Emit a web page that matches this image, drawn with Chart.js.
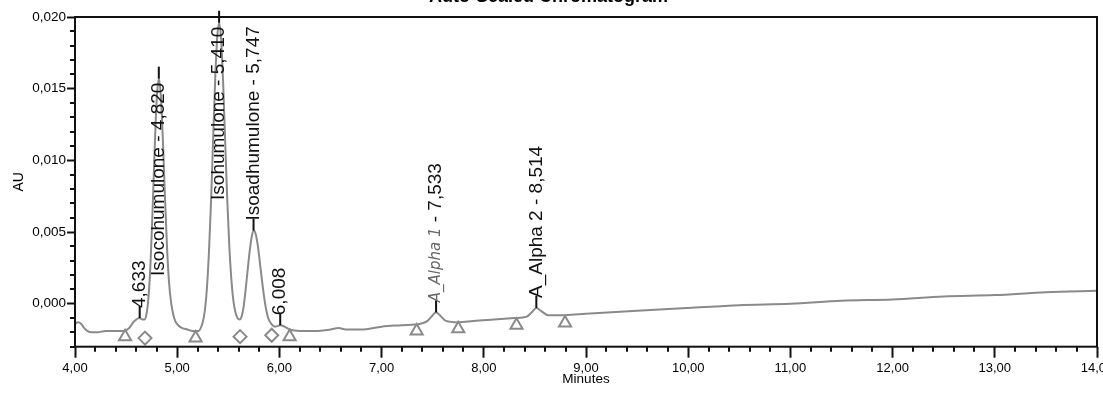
<!DOCTYPE html>
<html>
<head>
<meta charset="utf-8">
<title>Auto-Scaled Chromatogram</title>
<script src="https://cdn.jsdelivr.net/npm/chart.js@4.4.1/dist/chart.umd.min.js"></script>
<style>
  html, body { margin: 0; padding: 0; background: #fff; overflow: hidden; }
  #wrap { position: relative; width: 1103px; height: 396px; overflow: hidden; }
  #chrom { position: absolute; left: 0; top: -14px; }
</style>
</head>
<body>
<div id="wrap">
  <canvas id="chrom" width="1120" height="410"></canvas>
</div>
<script>
// chromatogram trace (minutes / AU)
const traceX = [4.00, 4.03, 4.06, 4.09, 4.12, 4.16, 4.22, 4.30, 4.40, 4.48, 4.53, 4.57, 4.60, 4.63, 4.66, 4.68,
  4.70, 4.72, 4.74, 4.76, 4.78, 4.80, 4.82, 4.84, 4.86, 4.88, 4.90, 4.92, 4.94, 4.96, 4.98, 5.01, 5.05, 5.10, 5.15,
  5.21, 5.23, 5.25, 5.27, 5.29, 5.31, 5.33, 5.35, 5.37, 5.39, 5.41, 5.43, 5.45, 5.47, 5.49, 5.51, 5.53, 5.55, 5.57,
  5.59, 5.61, 5.63, 5.65, 5.67, 5.69, 5.71, 5.73, 5.75, 5.77, 5.79, 5.81, 5.83, 5.85, 5.87, 5.89, 5.92, 5.96, 6.01,
  6.05, 6.10, 6.20, 6.35, 6.50, 6.58, 6.65, 6.80, 7.00, 7.20, 7.38, 7.45, 7.50, 7.533, 7.57, 7.63, 7.75, 7.90, 8.10,
  8.30, 8.42, 8.47, 8.514, 8.56, 8.63, 8.80, 9.00, 9.50, 10.00, 10.50, 11.00, 11.50, 12.00, 12.50, 13.00, 13.50, 14.00];
const traceY = [-0.0014, -0.0013, -0.0014, -0.0017, -0.0019, -0.0020, -0.0020, -0.0019, -0.0019, -0.0019, -0.0017,
  -0.0013, -0.0011, -0.0010, -0.0011, -0.0011,
  -0.0007, 0.0005, 0.0030, 0.0067, 0.0109, 0.0143, 0.0157, 0.0145, 0.0114, 0.0075, 0.0040, 0.0015, 0.0001, -0.0007,
  -0.0012, -0.0015, -0.0017, -0.0018, -0.0019,
  -0.0019, -0.0017, -0.0013, -0.0005, 0.0010, 0.0035, 0.0069, 0.0111, 0.0153, 0.0184, 0.0196, 0.0184, 0.0153, 0.0112,
  0.0072, 0.0040, 0.0017, 0.0002, -0.0006,
  -0.0010, -0.0011, -0.0009, -0.0002, 0.0010, 0.0024, 0.0037, 0.0047, 0.0051, 0.0048, 0.0040, 0.0028, 0.0016, 0.0005,
  -0.0004, -0.0010, -0.0014, -0.0016, -0.0015,
  -0.0016, -0.0018, -0.0019, -0.0019, -0.0018, -0.0017, -0.0018, -0.0018, -0.0016, -0.0015, -0.0014, -0.0012, -0.0008,
  -0.0006, -0.0008, -0.0012, -0.0013, -0.0012, -0.0011,
  -0.0010, -0.0009, -0.0006, -0.0003, -0.0005, -0.0008, -0.0008, -0.0007, -0.0005, -0.0003, -0.0001, 0.0000, 0.0002,
  0.0003, 0.0005, 0.0006, 0.0008, 0.0009];

// integration marks
const baseStartX = [4.49, 5.18, 6.10, 7.343, 7.75, 8.32, 8.795];
const baseStartY = [-0.0023, -0.0024, -0.0023, -0.0019, -0.00175, -0.0015, -0.00135];
const dropLineX = [4.685, 5.615, 5.925];
const dropLineY = [-0.0024, -0.0023, -0.0022];

// named peaks
const peakTimes = [4.633, 4.820, 5.410, 5.747, 6.008, 7.533, 8.514];
const peakApex = [-0.0010, 0.0157, 0.0196, 0.0051, -0.0015, -0.0006, -0.0003];
const peakNames = ['', 'Isocohumulone', 'Isohumulone', 'Isoadhumulone', '', 'A_Alpha 1', 'A_Alpha 2'];
const handWritten = ['A_Alpha 1'];

// axes
const xTickValues = [4, 5, 6, 7, 8, 9, 10, 11, 12, 13, 14];
const yTickValues = [0, 0.005, 0.010, 0.015, 0.020];

const FONT = "'Liberation Sans', Arial, sans-serif";
const LABEL_FONT = '19px ' + FONT;
const HAND_FONT = "italic 15px 'DejaVu Sans', sans-serif";
const comma = (v, d) => v.toFixed(d).replace('.', ',');

// box round the plot plus the small in-between ticks
const frame = {
  id: 'frame',
  afterDatasetsDraw(chart) {
    const {ctx, chartArea: a, scales: {x, y}} = chart;
    ctx.save();
    ctx.strokeStyle = '#111';
    ctx.lineWidth = 2;
    ctx.strokeRect(a.left, a.top, a.right - a.left, a.bottom - a.top);
    ctx.beginPath();
    for (let v = 4.2; v < 14; v += 0.2) {
      if (Math.abs(v - Math.round(v)) < 0.01) continue;
      const px = Math.round(x.getPixelForValue(v));
      ctx.moveTo(px, a.bottom);
      ctx.lineTo(px, a.bottom + 5);
    }
    for (let k = -3; k <= 20; k++) {
      if (k % 5 === 0) continue;
      const py = Math.round(y.getPixelForValue(k / 1000));
      ctx.moveTo(a.left, py);
      ctx.lineTo(a.left - 5, py);
    }
    ctx.stroke();
    ctx.restore();
  }
};

// vertical peak labels with their tick marks
const peakLabels = {
  id: 'peakLabels',
  afterDatasetsDraw(chart) {
    const {ctx, chartArea, scales: {x, y}} = chart;
    peakTimes.forEach((t, i) => {
      const px = x.getPixelForValue(t);
      const py = y.getPixelForValue(peakApex[i]);
      const name = peakNames[i];
      const parts = [];
      if (name) {
        const hand = handWritten.includes(name);
        parts.push({text: name, font: hand ? HAND_FONT : LABEL_FONT, color: hand ? '#666' : '#111'});
      }
      parts.push({text: (name ? ' - ' : '') + comma(t, 3), font: LABEL_FONT, color: '#111'});

      ctx.save();
      let w = 0;
      parts.forEach(p => { ctx.font = p.font; p.w = ctx.measureText(p.text).width; w += p.w; });

      ctx.strokeStyle = '#111';
      ctx.lineWidth = 2;
      ctx.beginPath();
      ctx.moveTo(px, py);
      ctx.lineTo(px, py - 12);
      ctx.stroke();

      let start = py - 10;
      if (start - w < chartArea.top) start = py + w + 4;
      ctx.translate(px, start);
      ctx.rotate(-Math.PI / 2);
      ctx.textAlign = 'left';
      ctx.textBaseline = 'middle';
      let off = 0;
      parts.forEach(p => {
        ctx.font = p.font;
        ctx.fillStyle = p.color;
        ctx.fillText(p.text, off, 0);
        off += p.w;
      });
      ctx.restore();
    });
  }
};

const ctx = document.getElementById('chrom').getContext('2d');
new Chart(ctx, {
  type: 'line',
  data: {
    datasets: [{
      data: traceX.map((v, i) => ({x: v, y: traceY[i]})),
      borderColor: '#8a8a8a',
      borderWidth: 2,
      pointRadius: 0,
      cubicInterpolationMode: 'monotone',
      fill: false
    }, {
      data: baseStartX.map((v, i) => ({x: v, y: baseStartY[i]})),
      showLine: false,
      pointStyle: 'triangle',
      pointRadius: 7,
      borderColor: '#8a8a8a',
      borderWidth: 2,
      backgroundColor: 'rgba(255,255,255,0)'
    }, {
      data: dropLineX.map((v, i) => ({x: v, y: dropLineY[i]})),
      showLine: false,
      pointStyle: 'rectRot',
      pointRadius: 6.5,
      borderColor: '#8a8a8a',
      borderWidth: 2,
      backgroundColor: 'rgba(255,255,255,0)'
    }]
  },
  options: {
    responsive: false,
    animation: false,
    events: [],
    layout: { padding: { left: 0, right: 23, top: 0, bottom: 0 } },
    plugins: {
      legend: { display: false },
      tooltip: { enabled: false },
      title: {
        display: true,
        text: 'Auto-Scaled Chromatogram',
        color: '#000',
        font: { family: FONT, size: 18, weight: 'bold' },
        padding: { top: 0, bottom: 9.4 }
      }
    },
    scales: {
      x: {
        type: 'linear',
        min: 4,
        max: 14,
        afterBuildTicks: s => { s.ticks = xTickValues.map(v => ({value: v})); },
        afterFit: s => { s.height = 49.3; },
        grid: { drawOnChartArea: false, tickLength: 11, tickColor: '#111', tickWidth: 2 },
        border: { display: false },
        ticks: {
          callback: v => comma(v, 2),
          color: '#000',
          font: { family: FONT, size: 13 },
          padding: 3,
          maxRotation: 0,
          autoSkip: false
        },
        title: {
          display: true,
          text: 'Minutes',
          color: '#000',
          font: { family: FONT, size: 13.5 },
          padding: { top: 0, bottom: 9 }
        }
      },
      y: {
        min: -0.003,
        max: 0.020,
        afterBuildTicks: s => { s.ticks = yTickValues.map(v => ({value: v})); },
        afterFit: s => { s.width = 75; },
        grid: { drawOnChartArea: false, tickLength: 8, tickColor: '#111', tickWidth: 2 },
        border: { display: false },
        ticks: {
          callback: v => comma(v, 3),
          color: '#000',
          font: { family: FONT, size: 13.5 },
          padding: 1
        },
        title: {
          display: true,
          text: 'AU',
          color: '#000',
          font: { family: FONT, size: 14 },
          padding: { top: 11, bottom: 0 }
        }
      }
    }
  },
  plugins: [frame, peakLabels]
});
</script>
</body>
</html>
